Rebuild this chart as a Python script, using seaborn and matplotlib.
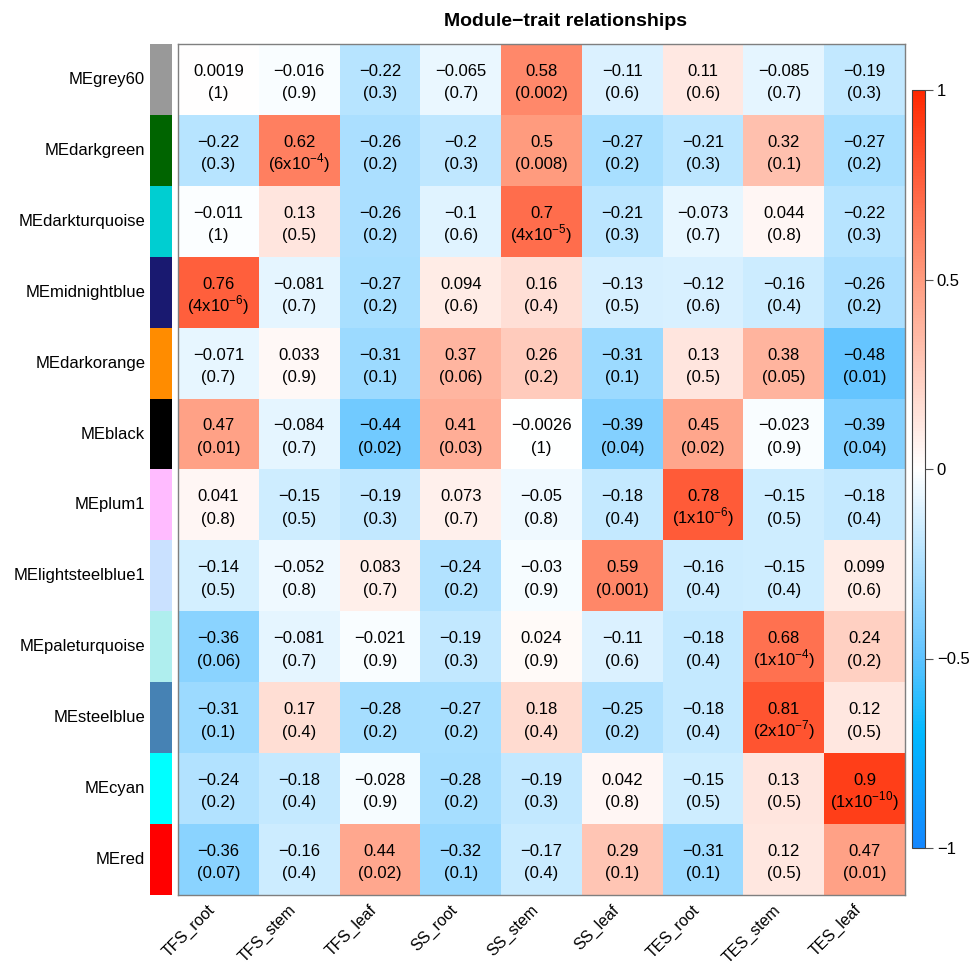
import matplotlib
matplotlib.use("Agg")
import matplotlib.pyplot as plt
import seaborn as sns
import numpy as np
import pandas as pd
from matplotlib.colors import LinearSegmentedColormap, ListedColormap
from matplotlib.transforms import ScaledTranslation

modules = ["MEgrey60", "MEdarkgreen", "MEdarkturquoise", "MEmidnightblue",
           "MEdarkorange", "MEblack", "MEplum1", "MElightsteelblue1",
           "MEpaleturquoise", "MEsteelblue", "MEcyan", "MEred"]
module_colors = ["#999999", "#006400", "#00CED1", "#191970", "#FF8C00", "#000000",
                 "#FFBBFF", "#CAE1FF", "#AFEEEE", "#4682B4", "#00FFFF", "#FF0000"]
traits = ["TFS_root", "TFS_stem", "TFS_leaf", "SS_root", "SS_stem",
          "SS_leaf", "TES_root", "TES_stem", "TES_leaf"]

cor_labels = [
    ["0.0019", "-0.016", "-0.22", "-0.065", "0.58", "-0.11", "0.11", "-0.085", "-0.19"],
    ["-0.22", "0.62", "-0.26", "-0.2", "0.5", "-0.27", "-0.21", "0.32", "-0.27"],
    ["-0.011", "0.13", "-0.26", "-0.1", "0.7", "-0.21", "-0.073", "0.044", "-0.22"],
    ["0.76", "-0.081", "-0.27", "0.094", "0.16", "-0.13", "-0.12", "-0.16", "-0.26"],
    ["-0.071", "0.033", "-0.31", "0.37", "0.26", "-0.31", "0.13", "0.38", "-0.48"],
    ["0.47", "-0.084", "-0.44", "0.41", "-0.0026", "-0.39", "0.45", "-0.023", "-0.39"],
    ["0.041", "-0.15", "-0.19", "0.073", "-0.05", "-0.18", "0.78", "-0.15", "-0.18"],
    ["-0.14", "-0.052", "0.083", "-0.24", "-0.03", "0.59", "-0.16", "-0.15", "0.099"],
    ["-0.36", "-0.081", "-0.021", "-0.19", "0.024", "-0.11", "-0.18", "0.68", "0.24"],
    ["-0.31", "0.17", "-0.28", "-0.27", "0.18", "-0.25", "-0.18", "0.81", "0.12"],
    ["-0.24", "-0.18", "-0.028", "-0.28", "-0.19", "0.042", "-0.15", "0.13", "0.9"],
    ["-0.36", "-0.16", "0.44", "-0.32", "-0.17", "0.29", "-0.31", "0.12", "0.47"],
]
p_labels = [
    ["1", "0.9", "0.3", "0.7", "0.002", "0.6", "0.6", "0.7", "0.3"],
    ["0.3", "6e-4", "0.2", "0.3", "0.008", "0.2", "0.3", "0.1", "0.2"],
    ["1", "0.5", "0.2", "0.6", "4e-5", "0.3", "0.7", "0.8", "0.3"],
    ["4e-6", "0.7", "0.2", "0.6", "0.4", "0.5", "0.6", "0.4", "0.2"],
    ["0.7", "0.9", "0.1", "0.06", "0.2", "0.1", "0.5", "0.05", "0.01"],
    ["0.01", "0.7", "0.02", "0.03", "1", "0.04", "0.02", "0.9", "0.04"],
    ["0.8", "0.5", "0.3", "0.7", "0.8", "0.4", "1e-6", "0.5", "0.4"],
    ["0.5", "0.8", "0.7", "0.2", "0.9", "0.001", "0.4", "0.4", "0.6"],
    ["0.06", "0.7", "0.9", "0.3", "0.9", "0.6", "0.4", "1e-4", "0.2"],
    ["0.1", "0.4", "0.2", "0.2", "0.4", "0.2", "0.4", "2e-7", "0.5"],
    ["0.2", "0.4", "0.9", "0.2", "0.3", "0.8", "0.5", "0.5", "1e-10"],
    ["0.07", "0.4", "0.02", "0.1", "0.4", "0.1", "0.1", "0.5", "0.01"],
]

cor = pd.DataFrame([[float(v) for v in row] for row in cor_labels],
                   index=modules, columns=traits)


def fmt_p(s):
    if "e" in s:
        m, e = s.split("e")
        return "(" + m + "x10$^{\\mathregular{" + e.replace("-", "\u2212") + "}}$)"
    return "(" + s + ")"


plt.rcParams["font.family"] = ["Liberation Sans", "DejaVu Sans"]
plt.rcParams["mathtext.fontset"] = "custom"
plt.rcParams["mathtext.rm"] = "Liberation Sans"

nodes = [(0.0, (20, 135, 255)), (0.15, (0, 185, 255)), (0.25, (95, 195, 255)),
         (0.5, (255, 255, 255)), (0.75, (255, 156, 128)), (1.0, (255, 40, 0))]
cmap = LinearSegmentedColormap.from_list(
    "bwr_wgcna", [(p, tuple(c / 255 for c in rgb)) for p, rgb in nodes])

fig = plt.figure(figsize=(9.71, 9.65), dpi=100)
W, H = 971, 965
ax = fig.add_axes([178 / W, 1 - 895 / H, 727 / W, 851 / H])
sax = fig.add_axes([150 / W, 1 - 895 / H, 22 / W, 851 / H])
cax = fig.add_axes([912 / W, 1 - 848 / H, 13 / W, 758 / H])

sns.heatmap(cor, ax=ax, cmap=cmap, vmin=-1, vmax=1, annot=False,
            cbar_ax=cax, cbar_kws={"ticks": [-1, -0.5, 0, 0.5, 1]})

# two-line cell labels: correlation over p-value
for i in range(len(modules)):
    for j in range(len(traits)):
        ax.text(j + 0.5, i + 0.5 - 0.05, cor_labels[i][j].replace("-", "\u2212"),
                ha="center", va="baseline", fontsize=12)
        ax.text(j + 0.5, i + 0.5 + 0.265, fmt_p(p_labels[i][j]),
                ha="center", va="baseline", fontsize=12)

ax.set_yticks([])
ax.set_ylabel("")
ax.tick_params(axis="x", length=0, labelsize=11.5, pad=0)
ax.set_xticklabels(traits, rotation=45, ha="right", va="top", rotation_mode="anchor")
offset = ScaledTranslation(-11 / 100, -7 / 100, fig.dpi_scale_trans)
for lab in ax.get_xticklabels():
    lab.set_transform(lab.get_transform() + offset)
for sp in ax.spines.values():
    sp.set_visible(True)
    sp.set_color("#7f7f7f")
    sp.set_linewidth(1.0)

strip = pd.DataFrame(np.arange(len(modules)).reshape(-1, 1), index=modules)
sns.heatmap(strip, ax=sax, cmap=ListedColormap(module_colors), cbar=False,
            xticklabels=False)
sax.set_yticklabels(modules, rotation=0, fontsize=12)
sax.tick_params(axis="y", length=0, pad=3.5)
sax.set_ylabel("")

cax.set_yticklabels(["\u22121", "\u22120.5", "0", "0.5", "1"])
cax.tick_params(labelsize=12, length=6, width=0.8, color="#555555", pad=2.5)
cbar = ax.collections[0].colorbar
cbar.outline.set_edgecolor("#444444")
cbar.outline.set_linewidth(0.8)

fig.text(565 / W, 1 - 21 / H, "Module\u2212trait relationships",
         ha="center", va="center", fontsize=14, fontweight="bold")

fig.savefig("out.png", dpi=100)
